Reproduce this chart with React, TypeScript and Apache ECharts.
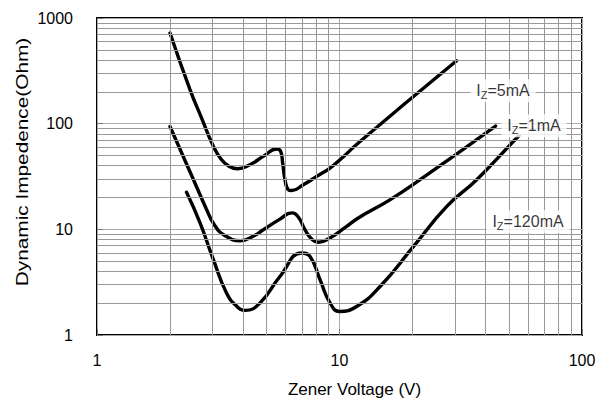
import React, { useEffect, useRef } from "react";
import * as echarts from "echarts";

// Zener voltage (V) and dynamic impedance (Ohm) for each test current
const V_5mA = [2.0, 2.42, 2.7, 3.0, 3.25, 3.5, 3.8, 4.27, 4.85, 5.51, 5.72, 5.83, 5.96, 6.15, 6.35, 7.09, 8.05, 9.14, 10.4, 11.95, 19.0, 30.4];
const Z_5mA = [720, 209, 113, 63, 46, 39.6, 37.4, 40.9, 49, 57.5, 54.6, 42.4, 29.5, 23.7, 23.3, 26.4, 31.7, 38.0, 49, 65.5, 161, 394];

const V_1mA = [2.0, 2.5, 2.8, 3.05, 3.35, 3.9, 4.4, 4.85, 5.68, 6.35, 6.76, 7.21, 7.68, 8.18, 9.14, 10.5, 11.95, 16.2, 21.5, 44];
const Z_1mA = [94, 29.5, 16.3, 11.0, 8.8, 7.8, 8.6, 9.9, 12.5, 14.3, 13.1, 9.9, 8.1, 7.55, 8.3, 10.3, 12.8, 19.1, 29.5, 95];

const V_120mA = [2.34, 2.66, 3.02, 3.42, 3.77, 4.08, 4.7, 5.68, 6.98, 7.56, 8.31, 9.14, 10, 11.8, 14.7, 20.2, 27.7, 36.8, 52.9, 55];
const Z_120mA = [22.4, 11.5, 5.16, 2.5, 1.87, 1.71, 2.01, 3.58, 5.97, 5.54, 3.34, 2.01, 1.67, 1.87, 2.88, 6.89, 16.5, 29.5, 70.4, 77];

// Minor grid values
const MINOR_X = [2, 3, 4, 5, 6, 7, 8, 9, 20, 30, 40, 50, 60, 70, 80, 90];
const MINOR_Y = [2, 3, 4, 5, 6, 7, 8, 9, 20, 30, 40, 50, 60, 70, 80, 90, 200, 300, 400, 500, 600, 700, 800, 900];

// Curve labels: [voltage, impedance, current text]
const LABELS: [number, number, string][] = [
  [47.2, 205, "5mA"],
  [63.4, 95.5, "1mA"],
  [59.9, 11.8, "120mA"],
];

const FONT = "'Liberation Sans', Arial, sans-serif";

const zip = (a: number[], b: number[]) => a.map((v, i) => [v, b[i]]);

export default function App() {
  const ref = useRef<HTMLDivElement>(null);
  useEffect(() => {
    if (!ref.current) return;
    const chart = echarts.init(ref.current, null, { renderer: "svg" });
    const curve = (name: string, data: number[][]) => ({
      name,
      type: "line",
      data,
      smooth: 0.5,
      symbol: "none",
      lineStyle: { color: "#000", width: 3.4, cap: "round", join: "round" },
      z: 3,
    });
    chart.setOption({
      animation: false,
      textStyle: { fontFamily: FONT },
      grid: {
        left: 97,
        top: 18,
        right: 24,
        bottom: 73,
        show: true,
        borderColor: "#000",
        borderWidth: 2,
        backgroundColor: "#fff",
      },
      xAxis: {
        type: "log",
        logBase: 10,
        min: 1,
        max: 100,
        axisLine: { show: false },
        axisTick: { show: true, inside: true, length: 6, lineStyle: { color: "#777" } },
        splitLine: { show: true, lineStyle: { color: "#aaa", width: 1 } },
        axisLabel: { color: "#000", fontSize: 16, margin: 17, fontFamily: FONT, formatter: (v: number) => String(v) },
        name: "Zener Voltage (V)",
        nameLocation: "middle",
        nameGap: 46,
        nameTextStyle: { color: "#000", fontSize: 17, fontFamily: FONT, padding: [0, 0, 0, 30] },
      },
      yAxis: {
        type: "log",
        logBase: 10,
        min: 1,
        max: 1000,
        axisLine: { show: false },
        axisTick: { show: true, inside: true, length: 6, lineStyle: { color: "#777" } },
        splitLine: { show: true, lineStyle: { color: "#aaa", width: 1 } },
        axisLabel: { color: "#000", fontSize: 16, margin: 24, fontFamily: FONT, formatter: (v: number) => String(v) },
      },
      graphic: [
        {
          type: "text",
          x: 22,
          y: 162,
          rotation: Math.PI / 2,
          scaleX: 1.3,
          style: {
            text: "Dynamic Impedence(Ohm)",
            fill: "#000",
            fontSize: 16,
            fontFamily: FONT,
            textAlign: "center",
            textVerticalAlign: "middle",
          },
        },
      ],
      series: [
        {
          type: "line",
          data: [],
          silent: true,
          z: 1,
          markLine: {
            silent: true,
            symbol: "none",
            label: { show: false },
            lineStyle: { color: "#999", width: 1, type: "solid" },
            data: [
              ...MINOR_X.map((v) => ({ xAxis: v })),
              ...MINOR_Y.map((v) => ({ yAxis: v })),
            ],
          },
        },
        curve("5mA", zip(V_5mA, Z_5mA)),
        curve("1mA", zip(V_1mA, Z_1mA)),
        curve("120mA", zip(V_120mA, Z_120mA)),
        {
          type: "scatter",
          z: 10,
          silent: true,
          symbolSize: 1,
          itemStyle: { color: "rgba(0,0,0,0)" },
          data: LABELS.map((l) => ({ value: [l[0], l[1]], name: l[2] })),
          label: {
            show: true,
            position: "inside",
            formatter: (p: any) => "I{s|Z}=" + p.name,
            color: "#000",
            fontSize: 16,
            fontFamily: FONT,
            backgroundColor: "#fff",
            padding: [2, 6],
            rich: {
              s: { fontSize: 11, fontFamily: FONT, color: "#000", padding: [8, 0, 0, 0] },
            },
          },
        },
      ],
    });
    return () => chart.dispose();
  }, []);
  return (
    <div
      ref={ref}
      style={{ position: "fixed", left: 0, top: 0, width: 606, height: 408, background: "#fff" }}
    />
  );
}
